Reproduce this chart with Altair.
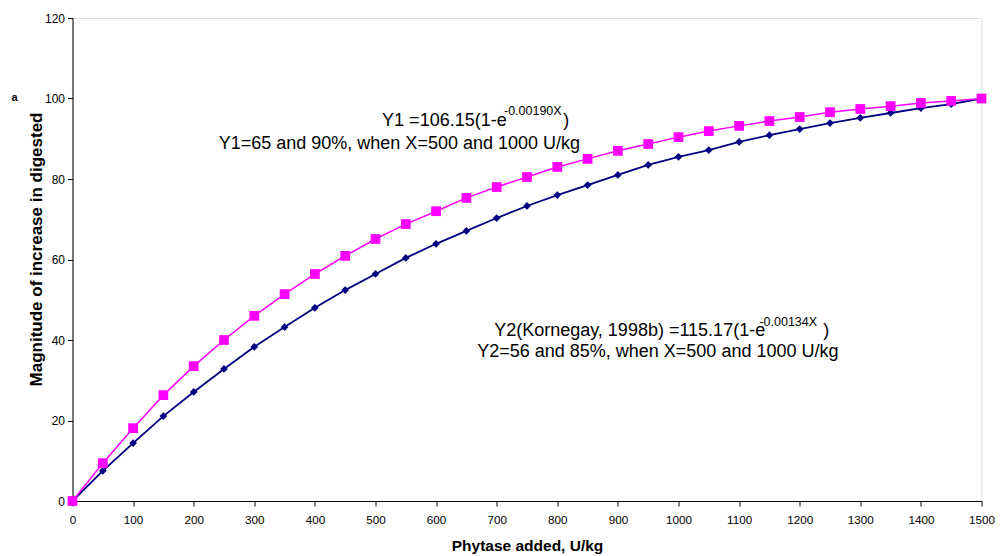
import altair as alt
import pandas as pd

# ---- data ----
phytase = [0, 50, 100, 150, 200, 250, 300, 350, 400, 450, 500, 550, 600, 650, 700,
           750, 800, 850, 900, 950, 1000, 1050, 1100, 1150, 1200, 1250, 1300, 1350,
           1400, 1450, 1500]
y1 = [0, 9.4, 18.1, 26.3, 33.5, 40.0, 46.0, 51.4, 56.4, 60.9, 65.1, 68.8, 72.0, 75.3,
      78.0, 80.5, 83.0, 85.0, 87.0, 88.7, 90.4, 91.9, 93.2, 94.4, 95.4, 96.6, 97.4,
      98.1, 98.9, 99.4, 100.0]
y2 = [0, 7.5, 14.4, 21.1, 27.1, 32.8, 38.3, 43.2, 48.0, 52.4, 56.4, 60.4, 63.9, 67.1,
      70.3, 73.3, 76.0, 78.5, 81.0, 83.5, 85.5, 87.2, 89.2, 90.9, 92.4, 93.9, 95.2,
      96.4, 97.6, 98.6, 100.0]

x_ticks = list(range(0, 1501, 100))
y_ticks = list(range(0, 121, 20))

# annotation texts (text, x, y in data units)
main_texts = ["Y1 =106.15(1-e", "Y1=65 and 90%, when X=500 and 1000 U/kg",
              "Y2(Kornegay, 1998b) =115.17(1-e", "Y2=56 and 85%, when X=500 and 1000 U/kg"]
main_x = [716.5, 837.5, 1143.0, 1264.0]
main_y = [94.4, 88.7, 42.2, 37.0]

sup_texts = ["-0.00190X", "-0.00134X"]
sup_x = [712.0, 1133.5]
sup_y = [97.0, 44.5]

paren_texts = [")", ")"]
paren_x = [810.0, 1239.0]
paren_y = [94.4, 42.2]

FONT = "Liberation Sans, Arial, Helvetica, sans-serif"

df1 = pd.DataFrame({"x": phytase, "y": y1})
df2 = pd.DataFrame({"x": phytase, "y": y2})

xscale = alt.Scale(domain=[0, 1500], nice=False, zero=False)
yscale = alt.Scale(domain=[0, 120], nice=False)

xaxis = alt.Axis(values=x_ticks, format="d", title="Phytase added, U/kg", grid=False,
                 labelFontSize=11.7, labelFont=FONT, labelColor="black",
                 titleFont=FONT, titleFontSize=15.5, titleFontWeight="bold", titleColor="black",
                 domainColor="black", tickColor="black", tickSize=5, labelPadding=8,
                 titleY=44, titleBaseline="middle", labelFlush=False)
yaxis = alt.Axis(values=y_ticks, title="Magnitude of increase in digested", grid=False,
                 labelFontSize=12, labelFont=FONT, labelColor="black",
                 titleFont=FONT, titleFontSize=17, titleFontWeight="bold", titleColor="black",
                 domainColor="black", tickColor="black", tickSize=5, labelPadding=3,
                 titleAngle=-90, titleX=-36, titleY=231, titleAlign="center",
                 titleBaseline="middle")

base2 = alt.Chart(df2).encode(x=alt.X("x:Q", scale=xscale, axis=xaxis),
                              y=alt.Y("y:Q", scale=yscale, axis=yaxis))
line2 = base2.mark_line(color="#000080", strokeWidth=1.8)
pts2 = base2.mark_point(shape="diamond", filled=True, color="#000080", size=60, opacity=1)

base1 = alt.Chart(df1).encode(x=alt.X("x:Q", scale=xscale), y=alt.Y("y:Q", scale=yscale))
line1 = base1.mark_line(color="#FF00FF", strokeWidth=1.5)
pts1 = base1.mark_point(shape="square", filled=True, color="#FF00FF", size=95, opacity=1)

ann_main = alt.Chart(pd.DataFrame({"t": main_texts, "x": main_x, "y": main_y})).mark_text(
    font=FONT, fontSize=18, align="right", baseline="middle", color="black"
).encode(x="x:Q", y="y:Q", text="t:N")

ann_sup = alt.Chart(pd.DataFrame({"t": sup_texts, "x": sup_x, "y": sup_y})).mark_text(
    font=FONT, fontSize=12.5, align="left", baseline="middle", color="black"
).encode(x="x:Q", y="y:Q", text="t:N")

ann_paren = alt.Chart(pd.DataFrame({"t": paren_texts, "x": paren_x, "y": paren_y})).mark_text(
    font=FONT, fontSize=18, align="left", baseline="middle", color="black"
).encode(x="x:Q", y="y:Q", text="t:N")

panel_label = alt.Chart(pd.DataFrame({"t": ["a"]})).mark_text(
    font=FONT, fontSize=11, fontWeight="bold", align="center", baseline="middle", color="black"
).encode(x=alt.value(-58), y=alt.value(80), text="t:N")

chart = alt.layer(line2, pts2, line1, pts1, ann_main, ann_sup, ann_paren, panel_label).properties(
    width=909, height=483,
    autosize=alt.AutoSizeParams(type="none"),
    padding={"left": 64.5, "top": 10, "right": 13, "bottom": 54},
).configure_view(stroke=None).configure(background="white")

chart.save("out.html", embed_options={"renderer": "svg", "actions": False})
